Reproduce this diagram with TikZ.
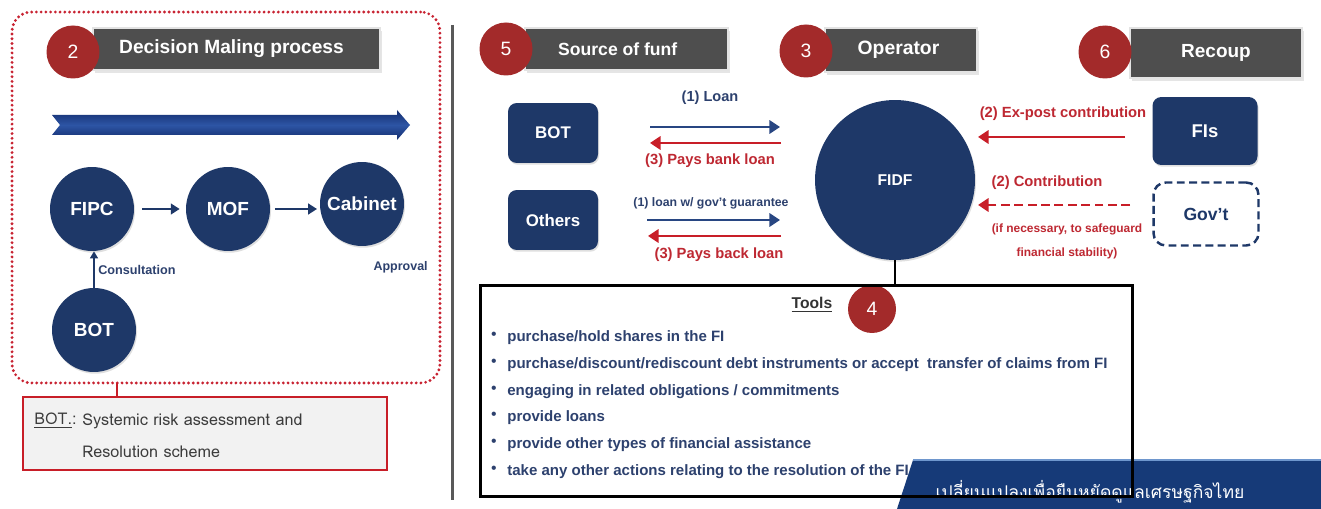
\documentclass[tikz,border=0pt]{standalone}
\usepackage{fontspec}
\setmainfont{Liberation Sans}
\newfontfamily\thaifont[Script=Thai]{Loma}
\usetikzlibrary{arrows.meta,shadows}
\definecolor{navy}{RGB}{30,56,104}
\definecolor{hdrgray}{RGB}{78,78,78}
\definecolor{numred}{RGB}{163,42,42}
\definecolor{arrred}{RGB}{200,30,40}
\definecolor{dotred}{RGB}{200,35,50}
\definecolor{lblred}{RGB}{190,40,50}
\definecolor{arrblue}{RGB}{40,70,130}
\definecolor{lblblue}{RGB}{45,65,110}
\definecolor{txtgray}{RGB}{60,60,60}
\definecolor{bannerblue}{RGB}{22,58,120}
\definecolor{bigarrD}{RGB}{20,45,110}
\definecolor{bigarrL}{RGB}{45,85,165}
\newcommand\fsz[1]{\fontsize{#1}{#1}\selectfont}
\begin{document}
\begin{tikzpicture}[x=0.02cm,y=-0.02cm,
  navycirc/.style={circle, fill=navy, text=white, font=\fsz{10.8}\bfseries, inner sep=0pt, minimum size=1.68cm,
    drop shadow={opacity=0.25, shadow xshift=0.6pt, shadow yshift=-1pt}},
  hdr/.style={fill=hdrgray, draw=gray!22, line width=1.4pt, text=white, inner sep=0pt,
    drop shadow={opacity=0.2, shadow xshift=1pt, shadow yshift=-1.5pt}},
  numc/.style={circle, fill=numred, text=white, font=\fsz{11}, minimum size=1.06cm, inner sep=0pt},
  srcbox/.style={rounded corners=5pt, fill=navy, text=white, font=\fsz{9.6}\bfseries, inner sep=0pt,
    minimum width=1.8cm, minimum height=1.2cm,
    drop shadow={opacity=0.25, shadow xshift=0.6pt, shadow yshift=-1pt}},
  smallarr/.style={draw=navy, line width=1.4pt, -{Triangle[length=5pt,width=6pt]}},
  bluearr/.style={draw=arrblue, line width=1.7pt, -{Triangle[length=6pt,width=7.5pt]}},
  redarr/.style={draw=arrred, line width=1.7pt, -{Triangle[length=6pt,width=7.5pt]}},
  bluelbl/.style={text=lblblue, font=\fsz{8.3}\bfseries, inner sep=0pt},
  redlbl/.style={text=lblred, font=\fsz{8.4}\bfseries, inner sep=0pt},
  toolitem/.style={anchor=west, text=lblblue, font=\fsz{8.55}\bfseries, inner sep=0pt},
  bul/.style={text=lblblue, font=\fsz{9}, inner sep=0pt}
]
\useasboundingbox (0,0) rectangle (1321,509);
\fill[white] (0,0) rectangle (1321,509);

% ---------------- left panel ----------------
\node[draw=dotred, line width=1.8pt, line cap=round, dash pattern=on 0pt off 2.7pt, rounded corners=11pt,
  minimum width=8.56cm, minimum height=7.42cm, inner sep=0pt] (dmbox) at (226,197.5) {};

\node[hdr, minimum width=5.74cm, minimum height=0.84cm, font=\fsz{10.9}\bfseries] (h2) at (236.5,49) {\hspace*{-0.2cm}Decision Maling process};
\node[numc] (n2) at (73,52) {2};

\path[top color=bigarrD, bottom color=bigarrD, middle color=bigarrL]
  (52,115) -- (397,115) -- (397,110) -- (410,125) -- (397,140) -- (397,135) -- (52,135) -- (60,125) -- cycle;

\node[navycirc] (fipc) at (92,209) {FIPC};
\node[navycirc] (mof) at (228,209) {MOF};
\node[navycirc] (cab) at (362,204) {Cabinet};
\node[navycirc] (botc) at (94,330) {BOT};

\draw[smallarr, shorten <=4.5pt, shorten >=3.4pt] (fipc) -- (mof);
\draw[smallarr, shorten <=2.6pt, shorten >=1.5pt] (mof.east) -- (mof.east -| cab.west);
\draw[draw=navy, line width=1.1pt, -{Triangle[length=4pt,width=4.5pt]}] (botc.north) -- (botc.north |- fipc.south);
\node[anchor=west, text=lblblue, font=\fsz{7.2}\bfseries, inner sep=0pt] (consult) at (98,270) {Consultation};
\node[anchor=east, text=lblblue, font=\fsz{7.1}\bfseries, inner sep=0pt] (approval) at (428,267) {Approval};

\node[draw=arrred, line width=1.5pt, fill=black!5, minimum width=7.28cm, minimum height=1.46cm, inner sep=0pt] (botnote) at (205,433.5) {};
\coordinate (link) at (117,383);
\draw[arrred, line width=1.5pt] (link) -- (link |- botnote.north);
\node[anchor=west, text=txtgray, font=\thaifont\fsz{9.2}, inner sep=0pt] (bn1) at (34,421) {\underline{BOT.}:};
\node[anchor=west, text=txtgray, font=\thaifont\fsz{9.2}, inner sep=0pt] (bn2) at (82,421) {Systemic risk assessment and};
\node[anchor=west, text=txtgray, font=\thaifont\fsz{9.2}, inner sep=0pt] (bn3) at (82,452) {Resolution scheme};

% separator
\coordinate (sepA) at (452,25);
\coordinate (sepB) at (452,500);
\draw[line width=1.7pt, black!65] (sepA) -- (sepB);

% ---------------- right panel headers ----------------
\node[hdr, minimum width=4.06cm, minimum height=0.84cm, font=\fsz{10}\bfseries] (h5) at (626.5,49) {\hspace*{-0.35cm}Source of funf};
\node[numc] (n5) at (506,49) {5};
\node[hdr, minimum width=3.04cm, minimum height=0.88cm, font=\fsz{11}\bfseries] (h3) at (901,50) {\hspace*{-0.1cm}Operator};
\node[numc] (n3) at (806,51) {3};
\node[hdr, minimum width=3.44cm, minimum height=1.0cm, font=\fsz{10.8}\bfseries] (h6) at (1216,53) {Recoup};
\node[numc] (n6) at (1105,52) {6};

% ---------------- sources / operator / recoup ----------------
\node[srcbox] (botr) at (553,133) {BOT};
\node[srcbox] (others) at (553,220) {Others};
\node[circle, fill=navy, text=white, font=\fsz{8.9}\bfseries, minimum size=3.2cm, inner sep=0pt,
  drop shadow={opacity=0.25, shadow xshift=0.6pt, shadow yshift=-1pt}] (fidf) at (895,180) {FIDF};
\node[srcbox, minimum width=2.1cm, minimum height=1.36cm, font=\fsz{10.5}\bfseries] (fis) at (1205,131) {FIs};
\node[draw=navy, line width=1.4pt, dash pattern=on 4.5pt off 2.5pt, rounded corners=7pt, fill=white,
  text=navy, font=\fsz{10}\bfseries, minimum width=2.1cm, minimum height=1.26cm, inner sep=0pt] (govt) at (1206,214) {Gov't};

\coordinate (a1s) at (650,127); \coordinate (a1e) at (780,127);
\coordinate (a2s) at (781,143); \coordinate (a2e) at (650,143);
\coordinate (a3s) at (647,220); \coordinate (a3e) at (780,220);
\coordinate (a4s) at (781,236); \coordinate (a4e) at (648,236);
\coordinate (a5s) at (1125,137); \coordinate (a5e) at (978,137);
\coordinate (a6s) at (1130,205); \coordinate (a6e) at (978,205);
\draw[bluearr] (a1s) -- (a1e);
\draw[redarr] (a2s) -- (a2e);
\draw[bluearr] (a3s) -- (a3e);
\draw[redarr] (a4s) -- (a4e);
\draw[redarr] (a5s) -- (a5e);
\draw[redarr, dash pattern=on 5pt off 2.6pt] (a6s) -- (a6e);

\node[bluelbl] (l1) at (710,98) {(1) Loan};
\node[redlbl] (l2) at (710,161) {(3) Pays bank loan};
\node[bluelbl, font=\fsz{7}\bfseries] (l3) at (711,203) {(1) loan w/ gov't guarantee};
\node[redlbl] (l4) at (719,255) {(3) Pays back loan};
\node[redlbl] (l5) at (1063,114) {(2) Ex-post contribution};
\node[redlbl] (l6) at (1047,183) {(2) Contribution};
\node[redlbl, font=\fsz{6.8}\bfseries] (l7) at (1067,229) {(if necessary, to safeguard};
\node[redlbl, font=\fsz{6.8}\bfseries] (l8) at (1067,253) {financial stability)};

% ---------------- tools ----------------
\node[anchor=south, text=black!80, font=\fsz{8.9}\bfseries, inner sep=0pt] (ttl) at (812,313) {\underline{Tools}};
\node[numc, minimum size=0.96cm] (n4) at (872,309) {4};

\node[toolitem] (t1) at (507,338) {purchase/hold shares in the FI};
\node[toolitem] (t2) at (507,365) {purchase/discount/rediscount debt instruments or accept\ \ transfer of claims from FI};
\node[toolitem] (t3) at (507,392) {engaging in related obligations / commitments};
\node[toolitem] (t4) at (507,418) {provide loans};
\node[toolitem] (t5) at (507,445) {provide other types of financial assistance};
\node[toolitem] (t6) at (507,472) {take any other actions relating to the resolution of the FI};
\foreach \yy/\nm in {336/b1,363/b2,390/b3,416/b4,443/b5,470/b6}
  \node[bul] (\nm) at (494,\yy) {\textbullet};

% banner
\path[fill=bannerblue] (913,460) -- (1321,460) -- (1321,509) -- (897,509) -- cycle;
\draw[line width=1pt, color={rgb,255:red,110;green,150;blue,205}] (913,460) -- (1321,460);
\node[text=white, font=\thaifont\fsz{10}, inner sep=0pt] (slogan) at (1090,492) {เปลี่ยนแปลงเพื่อยืนหยัดดูแลเศรษฐกิจไทย};

\node[draw=black, line width=1.7pt, minimum width=13.06cm, minimum height=4.24cm, inner sep=0pt] (tools) at (806.5,391) {};
\draw[black, line width=1pt] (fidf.south) -- (tools.north -| fidf.south);
\end{tikzpicture}
\end{document}
